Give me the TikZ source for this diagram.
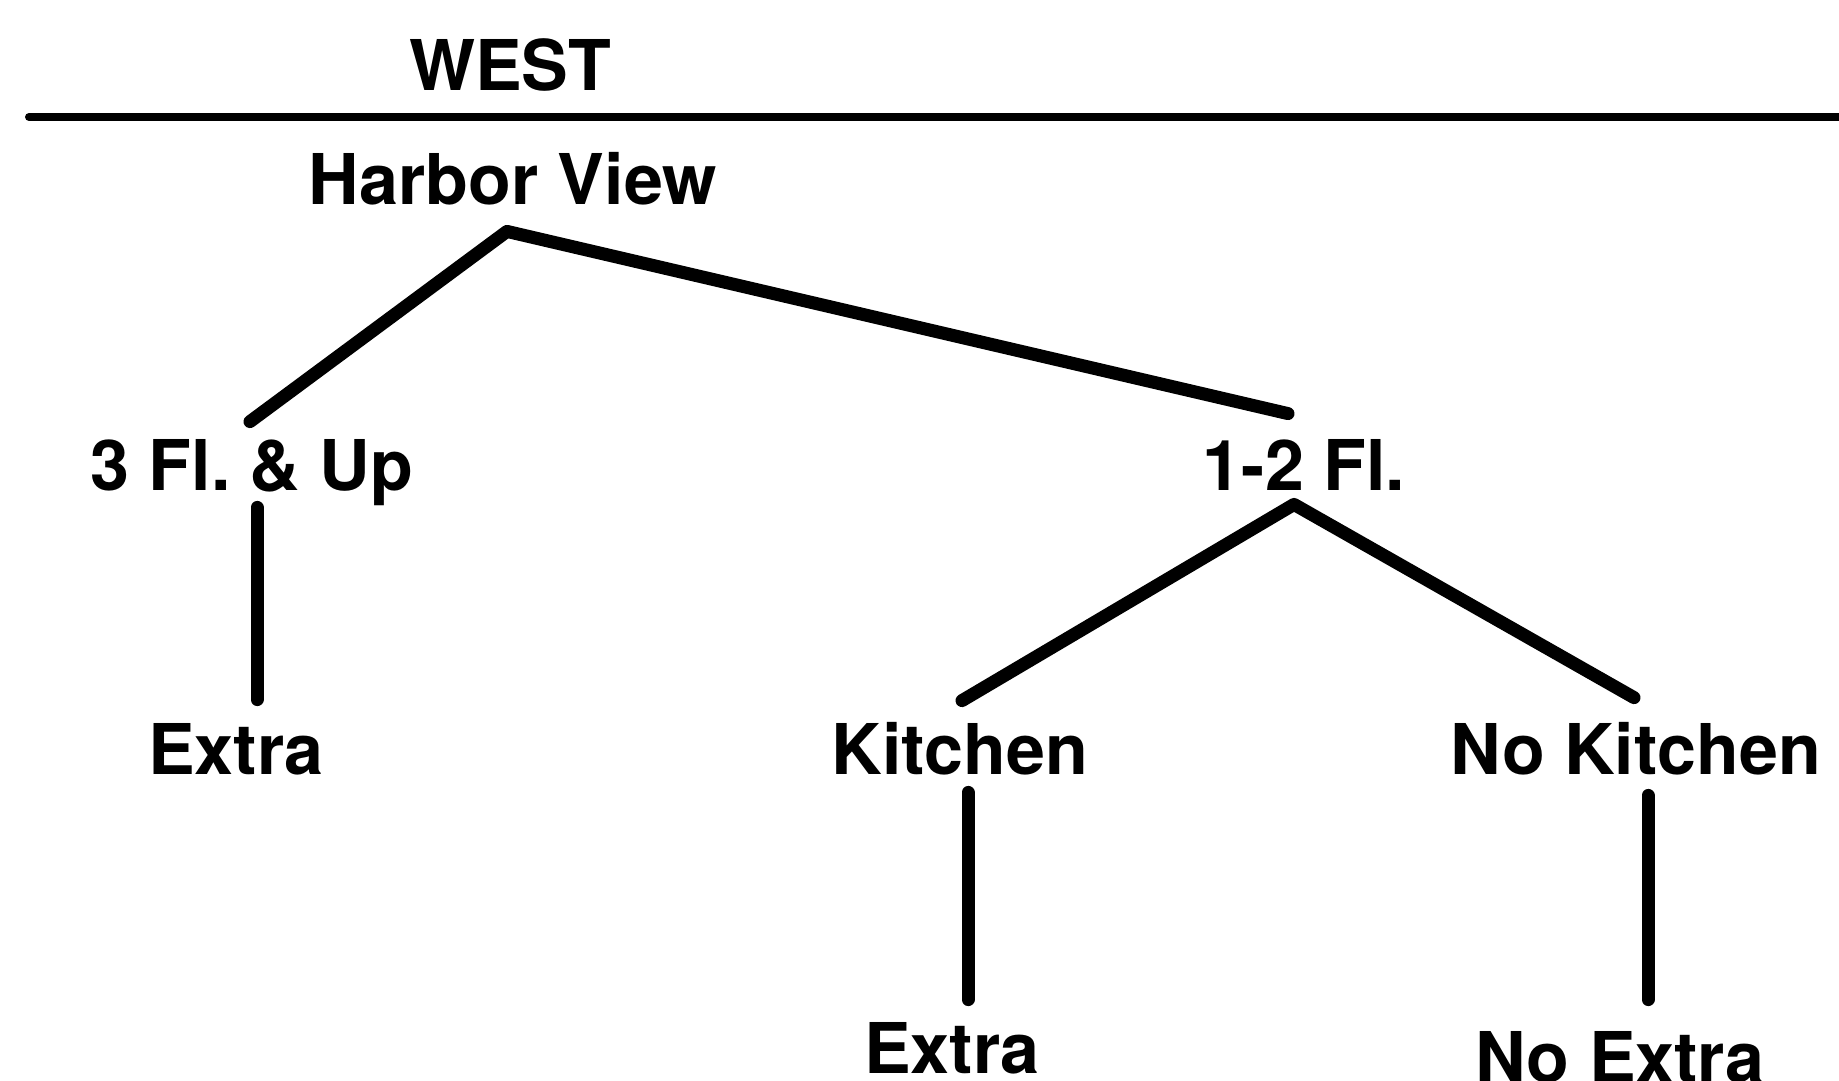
\documentclass[tikz,border=0pt]{standalone}
\usepackage{fontspec}
\setmainfont{TeX Gyre Heros}
\usepackage{tikz}
\usetikzlibrary{positioning}
\frenchspacing

\begin{document}
\begin{tikzpicture}[x=0.5pt,y=-0.5pt,
    lbl/.style={font=\fontsize{35}{40}\selectfont\bfseries,inner sep=0pt,
      anchor=base,text height=25pt,text depth=0pt},
    branch/.style={line width=6.5pt,line cap=round,line join=round}]
  \useasboundingbox (0,0) rectangle (1839,1080);
  % heading and rule
  \node[lbl] (west) at (510,91) {WEST};
  \draw[line width=4pt,line cap=round] (29,117) -- (1845,117);
  % tree labels
  \node[lbl] (hv)    at (513,205)  {Harbor View};
  \node[lbl] (up3)   at (252,490)  {3 Fl. \& Up};
  \node[lbl] (fl12)  at (1304,490) {1-2 Fl.};
  \node[lbl] (extA)  at (236,774)  {Extra};
  \node[lbl] (kit)   at (960,774)  {Kitchen};
  \node[lbl] (nokit) at (1636,774) {No Kitchen};
  \node[lbl] (extB)  at (952,1073) {Extra};
  \node[lbl] (noext) at (1620,1082) {No Extra};
  % branches
  \draw[branch] ([shift={(-2,-18)}]up3.north) -- ([shift={(-6,26)}]hv.south)
    -- ([shift={(-16,-26)}]fl12.north);
  \draw[branch] ([shift={(5,17)}]up3.south) -- ([shift={(21,-24)}]extA.north);
  \draw[branch] ([shift={(2,-23)}]kit.north) -- ([shift={(-10,14)}]fl12.south)
    -- ([shift={(-2,-26)}]nokit.north);
  \draw[branch] ([shift={(8,18)}]kit.south) -- ([shift={(16,-23)}]extB.north);
  \draw[branch] ([shift={(12,21)}]nokit.south) -- ([shift={(28,-32)}]noext.north);
\end{tikzpicture}
\end{document}
